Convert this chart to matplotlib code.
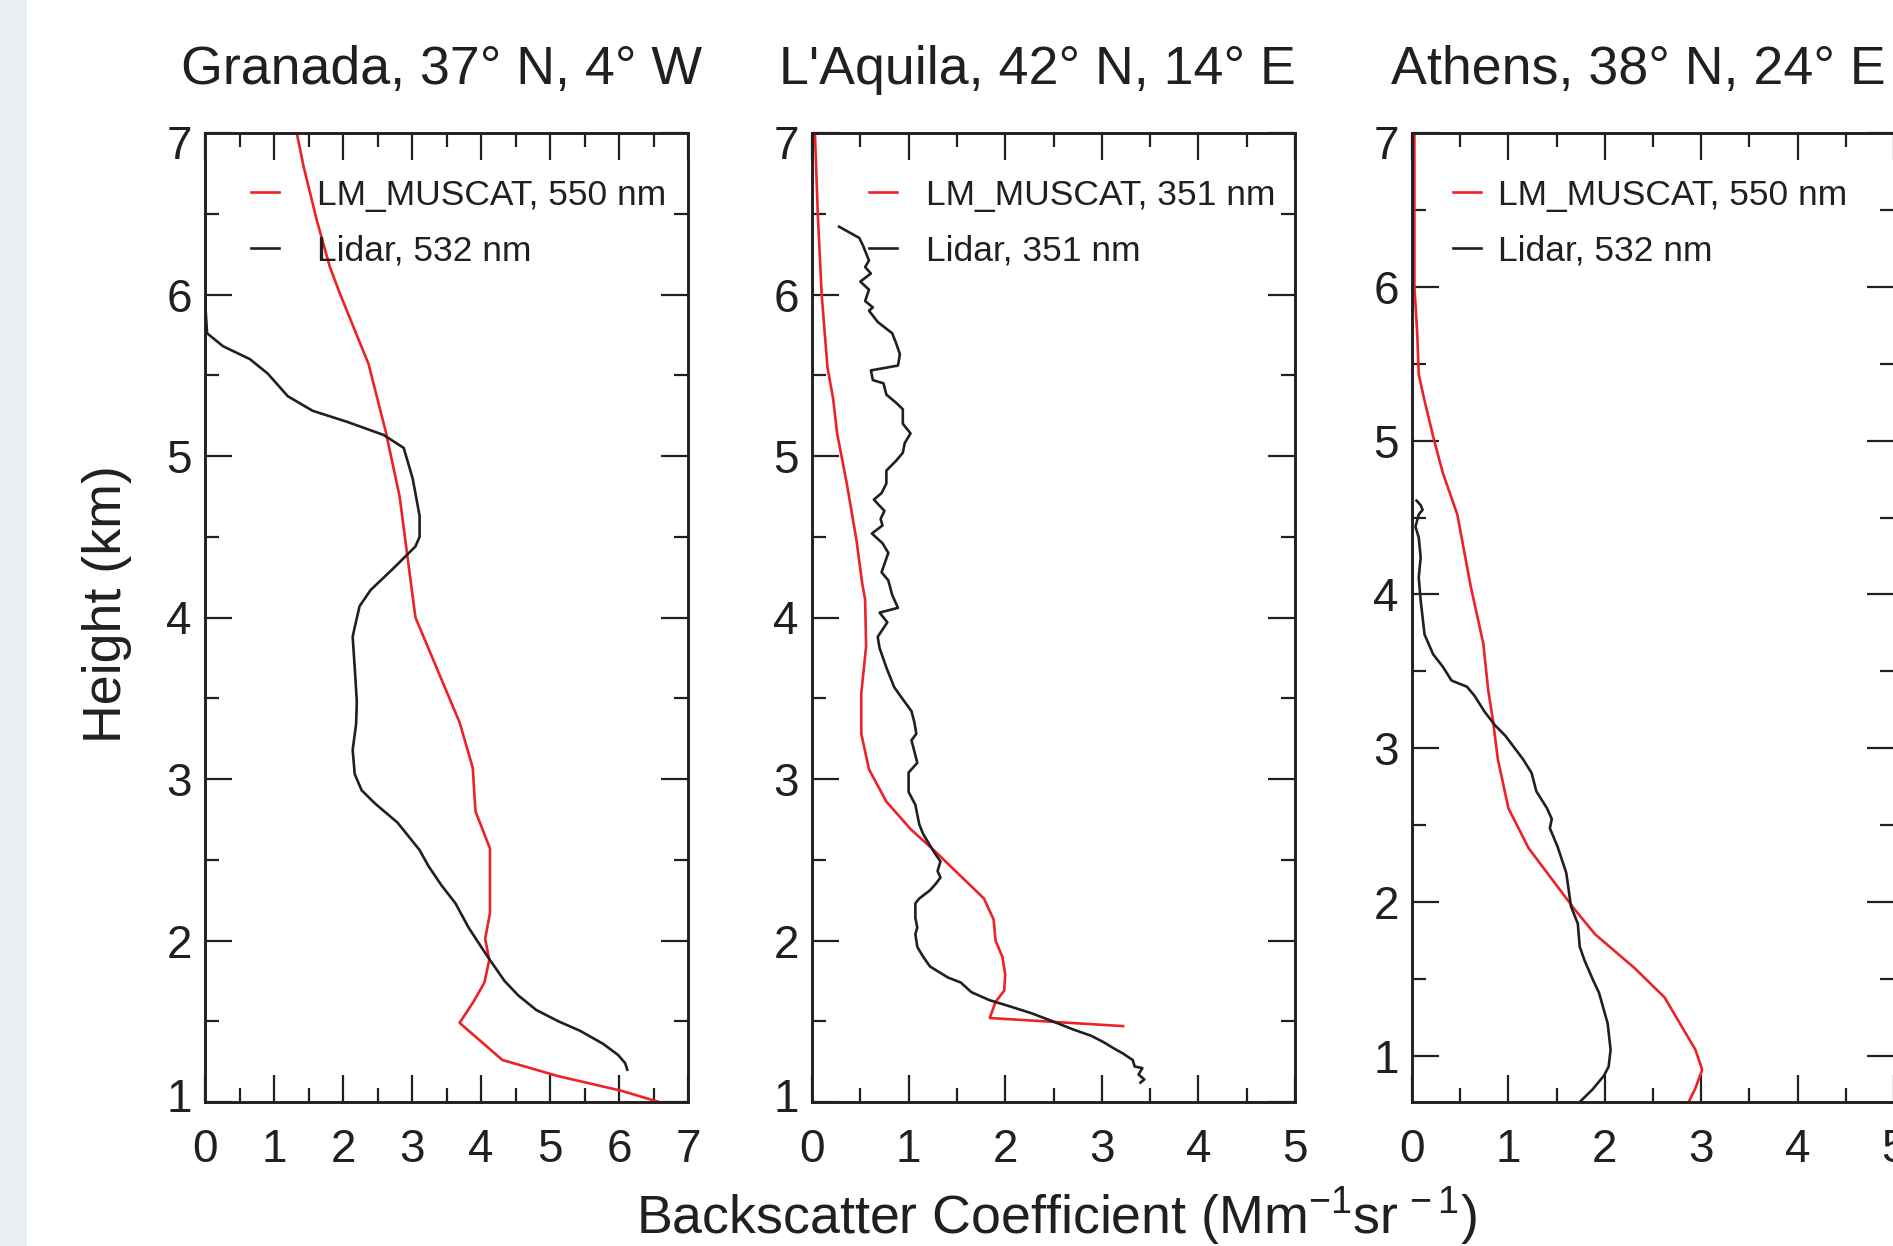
import matplotlib.pyplot as plt
from matplotlib.transforms import ScaledTranslation

plt.rcParams['font.family'] = ['Liberation Sans', 'DejaVu Sans']
plt.rcParams['mathtext.fontset'] = 'custom'
plt.rcParams['mathtext.rm'] = 'Liberation Sans'
plt.rcParams['mathtext.it'] = 'Liberation Sans:italic'
plt.rcParams['mathtext.bf'] = 'Liberation Sans:bold'

INK = '#231f20'
RED = '#ec2227'

# Granada, 550 / 532 nm
granada_model_x = [1.33, 1.43, 1.62, 1.81, 1.96, 2.37, 2.62, 2.82, 3.05, 3.69, 3.88, 3.92,
                   4.13, 4.13, 4.06, 4.12, 4.05, 3.89, 3.69, 4.31, 5.12, 6.03, 6.58]
granada_model_h = [7.0, 6.79, 6.46, 6.17, 6.0, 5.57, 5.15, 4.75, 4.0, 3.35, 3.07, 2.80,
                   2.57, 2.17, 2.01, 1.88, 1.74, 1.62, 1.49, 1.26, 1.16, 1.07, 1.0]
granada_lidar_x = [0.0, 0.01, 0.03, 0.26, 0.65, 0.91, 1.20, 1.56, 2.07, 2.59, 2.88, 3.01,
                   3.11, 3.11, 3.05, 2.72, 2.40, 2.24, 2.17, 2.14, 2.17, 2.20, 2.19, 2.14,
                   2.17, 2.27, 2.46, 2.79, 3.11, 3.24, 3.43, 3.63, 3.82, 4.08, 4.34, 4.54,
                   4.80, 5.12, 5.44, 5.77, 5.99, 6.09, 6.12]
granada_lidar_h = [6.02, 5.90, 5.76, 5.68, 5.60, 5.51, 5.37, 5.28, 5.21, 5.13, 5.05, 4.86,
                   4.63, 4.50, 4.44, 4.30, 4.17, 4.07, 3.94, 3.88, 3.69, 3.48, 3.34, 3.18,
                   3.03, 2.93, 2.85, 2.73, 2.56, 2.46, 2.34, 2.23, 2.08, 1.91, 1.75, 1.66,
                   1.57, 1.50, 1.44, 1.36, 1.29, 1.24, 1.20]

# L'Aquila, 351 nm
aquila_model_x = [0.03, 0.06, 0.10, 0.16, 0.22, 0.26, 0.36, 0.46, 0.52, 0.55, 0.56, 0.51,
                  0.51, 0.59, 0.77, 1.02, 1.26, 1.52, 1.78, 1.88, 1.90, 1.97, 2.00, 1.99,
                  1.90, 1.84, 3.22]
aquila_model_h = [7.0, 6.50, 6.0, 5.55, 5.35, 5.14, 4.83, 4.48, 4.21, 4.11, 3.82, 3.53,
                  3.28, 3.06, 2.86, 2.69, 2.56, 2.41, 2.26, 2.13, 2.0, 1.90, 1.79, 1.69,
                  1.62, 1.52, 1.47]
aquila_lidar_x = [0.28, 0.49, 0.53, 0.59, 0.55, 0.61, 0.50, 0.59, 0.55, 0.63, 0.59, 0.68,
                  0.83, 0.87, 0.91, 0.89, 0.61, 0.63, 0.74, 0.77, 0.87, 0.94, 0.94, 1.02,
                  0.96, 0.94, 0.87, 0.77, 0.77, 0.72, 0.64, 0.75, 0.71, 0.73, 0.62, 0.73,
                  0.79, 0.72, 0.79, 0.83, 0.89, 0.70, 0.78, 0.68, 0.70, 0.77, 0.85, 0.92,
                  1.03, 1.06, 1.08, 1.03, 1.09, 1.00, 1.00, 1.07, 1.11, 1.15, 1.22, 1.26,
                  1.33, 1.30, 1.33, 1.28, 1.22, 1.11, 1.07, 1.07, 1.09, 1.07, 1.09, 1.15,
                  1.22, 1.30, 1.41, 1.54, 1.65, 1.84, 2.06, 2.27, 2.49, 2.70, 2.89, 3.02,
                  3.13, 3.22, 3.32, 3.34, 3.42, 3.38, 3.44, 3.40]
aquila_lidar_h = [6.42, 6.35, 6.30, 6.21, 6.17, 6.13, 6.08, 6.03, 5.96, 5.92, 5.90, 5.83,
                  5.76, 5.70, 5.63, 5.56, 5.53, 5.47, 5.45, 5.38, 5.33, 5.29, 5.20, 5.14,
                  5.08, 5.02, 4.97, 4.91, 4.83, 4.77, 4.73, 4.66, 4.61, 4.57, 4.52, 4.46,
                  4.40, 4.28, 4.23, 4.14, 4.06, 4.03, 3.97, 3.88, 3.81, 3.69, 3.57, 3.51,
                  3.42, 3.35, 3.28, 3.24, 3.10, 3.04, 2.92, 2.84, 2.72, 2.66, 2.59, 2.55,
                  2.49, 2.43, 2.39, 2.35, 2.31, 2.26, 2.23, 2.14, 2.08, 2.04, 1.96, 1.90,
                  1.84, 1.81, 1.77, 1.74, 1.68, 1.63, 1.59, 1.55, 1.50, 1.45, 1.41, 1.37,
                  1.33, 1.30, 1.26, 1.22, 1.21, 1.17, 1.14, 1.12]

# Athens, 550 / 532 nm
athens_model_x = [0.025, 0.025, 0.054, 0.07, 0.13, 0.23, 0.32, 0.47, 0.61, 0.74, 0.79, 0.84,
                  0.89, 1.00, 1.21, 1.51, 1.69, 1.90, 2.31, 2.62, 2.94, 3.01, 2.94, 2.87]
athens_model_h = [7.0, 6.0, 5.70, 5.43, 5.26, 5.0, 4.79, 4.52, 4.05, 3.68, 3.38, 3.18,
                  2.93, 2.61, 2.35, 2.10, 1.95, 1.79, 1.57, 1.38, 1.04, 0.91, 0.79, 0.70]
athens_lidar_x = [0.047, 0.09, 0.11, 0.07, 0.036, 0.07, 0.09, 0.07, 0.09, 0.11, 0.13, 0.22,
                  0.32, 0.41, 0.57, 0.65, 0.75, 0.86, 0.97, 1.09, 1.15, 1.24, 1.29, 1.40,
                  1.45, 1.43, 1.51, 1.60, 1.65, 1.72, 1.74, 1.79, 1.88, 1.94, 2.03, 2.06,
                  2.04, 1.99, 1.87, 1.74]
athens_lidar_h = [4.61, 4.58, 4.55, 4.52, 4.44, 4.37, 4.24, 4.11, 3.96, 3.85, 3.74, 3.61,
                  3.53, 3.44, 3.40, 3.34, 3.24, 3.15, 3.08, 2.98, 2.93, 2.84, 2.72, 2.61,
                  2.54, 2.48, 2.36, 2.19, 1.97, 1.86, 1.71, 1.62, 1.49, 1.41, 1.21, 1.04,
                  0.93, 0.87, 0.78, 0.70]

titles = ["Granada, 37\u00b0 N, 4\u00b0 W", "L'Aquila, 42\u00b0 N, 14\u00b0 E",
          "Athens, 38\u00b0 N, 24\u00b0 E"]
model_labels = ["LM_MUSCAT, 550 nm", "LM_MUSCAT, 351 nm", "LM_MUSCAT, 550 nm"]
lidar_labels = ["Lidar, 532 nm", "Lidar, 351 nm", "Lidar, 532 nm"]
xmax = [7, 5, 5]
ymin = [1, 1, 0.7]

models = [(granada_model_x, granada_model_h), (aquila_model_x, aquila_model_h),
          (athens_model_x, athens_model_h)]
lidars = [(granada_lidar_x, granada_lidar_h), (aquila_lidar_x, aquila_lidar_h),
          (athens_lidar_x, athens_lidar_h)]

W, H = 1893, 1246
fig = plt.figure(figsize=(W / 100, H / 100), dpi=100)
fig.add_artist(plt.Rectangle((0, 0), 27 / W, 1, transform=fig.transFigure,
                             facecolor='#ebeff2', edgecolor='none', zorder=0))

# axes placement in pixels (left, width) and legend / title offsets
boxes = [(205, 483), (812, 483), (1412, 482)]
leg_x = [0.0946, 0.118, 0.085]
leg_pad = [1.07, 0.81, 0.47]
title_x = [0.49, 0.467, 0.47]

for i in range(3):
    left, width = boxes[i]
    ax = fig.add_axes([left / W, 144 / H, width / W, 969 / H])
    ax.plot(*models[i], color=RED, lw=1.9, label=model_labels[i])
    ax.plot(*lidars[i], color=INK, lw=1.9, label=lidar_labels[i])
    ax.set_xlim(0, xmax[i])
    ax.set_ylim(ymin[i], 7)
    ax.set_xticks(range(0, xmax[i] + 1))
    ax.set_xticks([k + 0.5 for k in range(xmax[i])], minor=True)
    ax.set_yticks(range(1, 8))
    ax.set_yticks([k + 0.5 for k in range(1, 7)], minor=True)
    ax.tick_params(which='both', direction='in', top=True, right=True,
                   colors=INK, width=1.6)
    ax.tick_params(which='major', length=19.5, labelsize=33)
    ax.tick_params(which='minor', length=10)
    ax.tick_params(axis='x', which='major', pad=19)
    ax.tick_params(axis='y', which='major', pad=9.5)
    for s in ax.spines.values():
        s.set_linewidth(2.1)
        s.set_color(INK)
    # end labels of the height axis sit a little inside the frame
    ylabels = ax.get_yticklabels()
    ylabels[-1].set_transform(ylabels[-1].get_transform()
                              + ScaledTranslation(0, -0.09, fig.dpi_scale_trans))
    if ymin[i] == 1:
        ylabels[0].set_transform(ylabels[0].get_transform()
                                 + ScaledTranslation(0, 0.07, fig.dpi_scale_trans))
    ax.set_title(titles[i], fontsize=38.7, pad=35, x=title_x[i], color=INK)
    leg = ax.legend(loc='upper left', bbox_to_anchor=(leg_x[i], 0.953), frameon=False,
                    fontsize=25.5, handlelength=0.8, handletextpad=leg_pad[i],
                    labelspacing=0.64, borderpad=0, borderaxespad=0)
    for t in leg.get_texts():
        t.set_color(INK)

fig.text(121 / W, 1 - 604 / H, 'Height (km)', rotation=90, rotation_mode='anchor',
         ha='center', va='baseline', fontsize=38.7, color=INK)
fig.text(1056 / W, 12 / H, 'Backscatter Coefficient (Mm$^{-1}$sr$^{\\,-1}$)',
         ha='center', va='baseline', fontsize=38.7, color=INK)

fig.savefig('out.png', dpi=100)
